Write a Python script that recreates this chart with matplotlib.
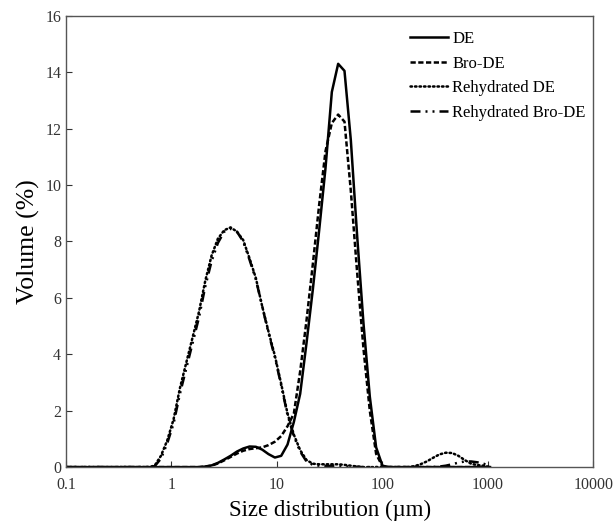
import matplotlib
matplotlib.use("Agg")
import matplotlib.pyplot as plt
from matplotlib.ticker import FixedLocator, FixedFormatter

# size classes (um), log spaced as in the analyser output
sizes = [0.1, 0.115, 0.132, 0.151, 0.174, 0.2, 0.229, 0.263, 0.302, 0.347,
	0.398, 0.457, 0.525, 0.603, 0.692, 0.794, 0.912, 1.047, 1.202, 1.38,
	1.585, 1.82, 2.089, 2.399, 2.754, 3.162, 3.631, 4.169, 4.786, 5.495,
	6.31, 7.244, 8.318, 9.55, 10.965, 12.589, 14.454, 16.596, 19.055, 21.878,
	25.119, 28.84, 33.113, 38.019, 43.652, 50.119, 57.544, 66.069, 75.858, 87.096,
	100.0, 114.8, 131.8, 151.4, 173.8, 199.5, 229.1, 263.0, 302.0, 346.7,
	398.1, 457.1, 524.8, 602.6, 691.8, 794.3, 912.0, 1047.0]

de = [0, 0, 0, 0, 0, 0, 0, 0, 0, 0,
	0, 0, 0, 0, 0, 0, 0, 0, 0, 0,
	0, 0.0, 0.02, 0.06, 0.15, 0.27, 0.4, 0.55, 0.66, 0.73,
	0.72, 0.62, 0.46, 0.34, 0.4, 0.8, 1.6, 2.6, 4.4, 6.3,
	8.4, 10.6, 13.3, 14.3, 14.05, 11.6, 8.2, 5.1, 2.5, 0.7,
	0.05, 0, 0, 0, 0, 0, 0, 0, 0, 0,
	0, 0, 0, 0, 0, 0, 0, 0]

bro_de = [0, 0, 0, 0, 0, 0, 0, 0, 0, 0,
	0, 0, 0, 0, 0, 0, 0, 0, 0, 0,
	0, 0.0, 0.02, 0.05, 0.13, 0.24, 0.36, 0.48, 0.58, 0.64,
	0.67, 0.7, 0.78, 0.9, 1.1, 1.45, 1.9, 3.4, 5.2, 7.2,
	9.3, 11.2, 12.2, 12.5, 12.25, 9.8, 6.9, 4.2, 2.0, 0.47,
	0.02, 0, 0, 0, 0, 0, 0, 0, 0, 0,
	0, 0, 0, 0, 0, 0, 0, 0]

rehyd_de = [0, 0, 0, 0, 0, 0, 0, 0, 0, 0,
	0, 0, 0, 0, 0.05, 0.4, 0.95, 1.7, 2.8, 3.7,
	4.6, 5.5, 6.6, 7.5, 8.1, 8.4, 8.5, 8.35, 8.05, 7.4,
	6.7, 5.7, 4.8, 3.95, 2.95, 1.9, 1.15, 0.6, 0.25, 0.12,
	0.1, 0.1, 0.1, 0.1, 0.08, 0.05, 0.02, 0, 0, 0,
	0, 0, 0, 0, 0, 0.03, 0.1, 0.2, 0.33, 0.45,
	0.51, 0.5, 0.4, 0.25, 0.12, 0.07, 0.05, 0]

rehyd_bro_de = [0, 0, 0, 0, 0, 0, 0, 0, 0, 0,
	0, 0, 0, 0, 0.03, 0.3, 0.85, 1.55, 2.6, 3.5,
	4.4, 5.3, 6.4, 7.3, 7.95, 8.35, 8.45, 8.35, 8.0, 7.35,
	6.65, 5.7, 4.75, 3.9, 2.9, 1.85, 1.1, 0.55, 0.2, 0.08,
	0.05, 0.04, 0.03, 0.03, 0.02, 0.02, 0.01, 0, 0, 0,
	0, 0, 0, 0, 0, 0, 0, 0, 0, 0.02,
	0.05, 0.1, 0.16, 0.2, 0.2, 0.17, 0.12, 0]

xticks = [0.1, 1, 10, 100, 1000, 10000]
xticklabels = ["0.1", "1", "10", "100", "1000", "10000"]
yticks = [0, 2, 4, 6, 8, 10, 12, 14, 16]

plt.rcParams['font.family'] = ['Liberation Serif', 'DejaVu Serif']

fig = plt.figure(figsize=(6.14, 5.29), dpi=100)
ax = fig.add_axes([0.1075, 0.117, 0.859, 0.853])

ax.plot(sizes, de, color="black", lw=1.8, ls="-", label="DE")
ax.plot(sizes, bro_de, color="black", lw=1.8, ls=(0, (2.1, 1.0)), label="Bro-DE")
ax.plot(sizes, rehyd_de, color="black", lw=1.8, ls=(0, (0.6, 1.2)),
	dash_capstyle="round", label="Rehydrated DE")
ax.plot(sizes, rehyd_bro_de, color="black", lw=1.8, ls=(0, (4, 2, 0.8, 2, 0.8, 2)),
	label="Rehydrated Bro-DE")

ax.set_xscale("log")
ax.set_xlim(0.1, 10000)
ax.set_ylim(0, 16)
ax.xaxis.set_major_locator(FixedLocator(xticks))
ax.xaxis.set_major_formatter(FixedFormatter(xticklabels))
ax.xaxis.set_minor_locator(FixedLocator([]))
ax.set_yticks(yticks)
ax.tick_params(direction="in", length=4, width=0.8, labelsize=11.5, colors="#333333")
ax.tick_params(axis="x", pad=7)
for s in ax.spines.values():
	s.set_color("#555555")
	s.set_linewidth(1.0)

ax.set_xlabel("Size distribution (\u00b5m)", fontsize=16.5, labelpad=5)
ax.set_ylabel("Volume (%)", fontsize=18.5, labelpad=4)

ax.legend(loc="upper left", frameon=False, fontsize=12, handlelength=2.3,
	handletextpad=0.25, labelspacing=0.52, bbox_to_anchor=(0.623, 1.0))

plt.savefig("out.png", dpi=100)
plt.close()
